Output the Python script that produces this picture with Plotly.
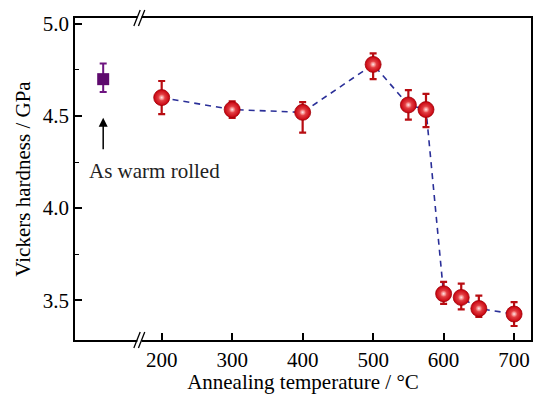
import plotly.graph_objects as go

temps = [200, 300, 400, 500, 550, 575, 600, 625, 650, 700]
hardness = [4.60, 4.535, 4.52, 4.78, 4.56, 4.535, 3.535, 3.515, 3.455, 3.425]
err_plus = [0.09, 0.045, 0.055, 0.06, 0.08, 0.085, 0.065, 0.075, 0.07, 0.065]
err_minus = [0.09, 0.045, 0.11, 0.08, 0.08, 0.095, 0.055, 0.065, 0.045, 0.065]

warm_x = [117]
warm_h = [4.70]
warm_plus = [0.085]
warm_minus = [0.07]

xtick_vals = [200, 300, 400, 500, 600, 700]
ytick_vals = [3.5, 4.0, 4.5, 5.0]

font = "Liberation Serif"
fig = go.Figure()

fig.add_trace(go.Scatter(
    x=temps, y=hardness, mode="lines",
    line=dict(color="#2a2f98", width=1.6, dash="6px,5px"),
    hoverinfo="skip", showlegend=False))

fig.add_trace(go.Scatter(
    x=temps, y=hardness, mode="markers",
    marker=dict(size=16, color="#c8000c",
                gradient=dict(type="radial", color="#f26a6a"),
                line=dict(width=0.8, color="#a00008")),
    error_y=dict(type="data", symmetric=False, array=err_plus, arrayminus=err_minus,
                 color="#b80d12", thickness=2.2, width=3.5),
    showlegend=False))

fig.add_trace(go.Scatter(
    x=temps, y=hardness, mode="markers",
    marker=dict(size=6, color="#ee5555",
                gradient=dict(type="radial", color="#ffe8e8"),
                line=dict(width=0)),
    hoverinfo="skip", showlegend=False))

fig.add_trace(go.Scatter(
    x=warm_x, y=warm_h, mode="markers",
    marker=dict(size=12, symbol="square", color="#5e0a6e", line=dict(width=0)),
    error_y=dict(type="data", symmetric=False, array=warm_plus, arrayminus=warm_minus,
                 color="#6e1480", thickness=2, width=3.5),
    showlegend=False))

# arrow
fig.add_annotation(x=117, y=4.49, ax=0, ay=33, text="", showarrow=True,
                   arrowhead=2, arrowsize=1.2, arrowwidth=1.5, arrowcolor="black")
fig.add_annotation(x=190, y=4.20, text="As warm rolled", showarrow=False,
                   font=dict(family=font, size=21, color="#222"))

# axis break marks
for yc in (0.0, 1.0):
    fig.add_shape(type="rect", xref="x", yref="paper", x0=165.5, x1=171.5,
                  y0=yc - 0.012, y1=yc + 0.012, fillcolor="white", line=dict(width=0),
                  layer="above")
    for xc in (165.0, 171.5):
        fig.add_shape(type="line", xref="x", yref="paper", x0=xc - 4.5, x1=xc + 4.5,
                      y0=yc - 0.025, y1=yc + 0.025, line=dict(color="black", width=1.3),
                      layer="above")

fig.update_layout(
    width=536, height=394,
    margin=dict(l=75, r=3, t=18, b=53),
    paper_bgcolor="white", plot_bgcolor="white",
    font=dict(family=font, size=21, color="black"),
    xaxis=dict(range=[77, 724], tickvals=xtick_vals, ticks="inside", ticklen=7,
               tickwidth=1.5, tickcolor="black", showline=True, linecolor="black",
               linewidth=1.5, mirror=True, showgrid=False, zeroline=False,
               title=dict(text="Annealing temperature / °C", standoff=4,
                          font=dict(size=21, family=font)),
               tickfont=dict(size=21, family=font)),
    yaxis=dict(range=[3.284, 5.032], tickvals=ytick_vals, tickformat=".1f",
               ticks="inside", ticklen=7, tickwidth=1.5, tickcolor="black",
               showline=True, linecolor="black", linewidth=1.5, mirror=True,
               showgrid=False, zeroline=False,
               minor=dict(tickvals=[3.75, 4.25, 4.75], ticks="inside", ticklen=4,
                          tickcolor="black", tickwidth=1.2),
               title=dict(text="Vickers hardness / GPa", standoff=6,
                          font=dict(size=21, family=font)),
               tickfont=dict(size=21, family=font)),
)

fig.write_html("out.html", config={"displayModeBar": False},
               post_script="document.body.style.margin='0px';document.body.style.overflow='hidden';")
